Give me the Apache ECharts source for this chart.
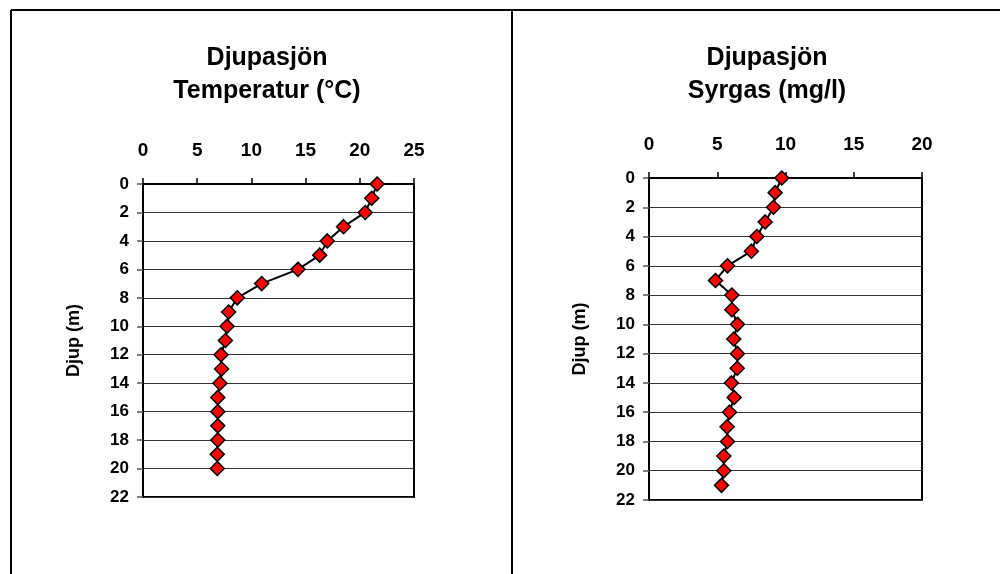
<!DOCTYPE html>
<html>
<head>
<meta charset="utf-8">
<script src="https://cdn.jsdelivr.net/npm/echarts@6/dist/echarts.min.js"></script>
<style>
html,body{margin:0;padding:0;background:#fff;}
#c{width:1000px;height:574px;}
</style>
</head>
<body>
<div id="c"></div>
<script>
const depthTemp = [0,1,2,3,4,5,6,7,8,9,10,11,12,13,14,15,16,17,18,19,20];
const temperature = [21.6,21.1,20.5,18.5,17.0,16.3,14.3,10.95,8.7,7.9,7.75,7.6,7.2,7.25,7.1,6.9,6.9,6.9,6.9,6.85,6.85];
const depthOxy = [0,1,2,3,4,5,6,7,8,9,10,11,12,13,14,15,16,17,18,19,20,21];
const oxygen = [9.73,9.24,9.12,8.51,7.9,7.5,5.75,4.87,6.07,6.07,6.48,6.21,6.48,6.46,6.04,6.24,5.9,5.72,5.75,5.48,5.48,5.31];
const titleLeft = "Djupasjön\nTemperatur (°C)";
const titleRight = "Djupasjön\nSyrgas (mg/l)";
const yName = "Djup (m)";

const FONT = "'Liberation Sans', Arial, sans-serif";
const chart = echarts.init(document.getElementById('c'), null, {renderer:'canvas'});

function xAx(gi, max, margin){
  return {
    gridIndex: gi, type:'value', position:'top', min:0, max:max, interval:5,
    axisLine:{show:true, onZero:false, lineStyle:{color:'#000', width:2}},
    axisTick:{show:true, inside:false, length:6, lineStyle:{color:'#000', width:1.5}},
    axisLabel:{color:'#000', fontFamily:FONT, fontWeight:'bold', fontSize:19, margin:margin},
    splitLine:{show:false}
  };
}
function yAx(gi, gap){
  return {
    gridIndex: gi, type:'value', inverse:true, min:0, max:22, interval:2,
    name: yName, nameLocation:'middle', nameGap:gap, nameRotate:90,
    nameTextStyle:{color:'#000', fontFamily:FONT, fontWeight:'bold', fontSize:18},
    axisLine:{show:true, onZero:false, lineStyle:{color:'#000', width:2}},
    axisTick:{show:true, inside:false, length:6, lineStyle:{color:'#555', width:1.5}},
    axisLabel:{color:'#000', fontFamily:FONT, fontWeight:'bold', fontSize:17, margin:14},
    splitLine:{show:true, lineStyle:{color:'#333', width:1}}
  };
}
function ser(gi, xs, ys){
  return {
    type:'line', xAxisIndex:gi, yAxisIndex:gi,
    data: xs.map((v,i)=>[v, ys[i]]),
    symbol:'diamond', symbolSize:14,
    lineStyle:{color:'#000', width:2},
    itemStyle:{color:'#ff0000', borderColor:'#000', borderWidth:1.5},
    animation:false, z:3
  };
}

chart.setOption({
  backgroundColor:'#fff',
  animation:false,
  title:[
    {text:titleLeft, left:262, textAlign:'center', top:37,
     textStyle:{fontFamily:FONT, fontWeight:'bold', fontSize:25, lineHeight:33, color:'#000'}},
    {text:titleRight, left:762, textAlign:'center', top:37,
     textStyle:{fontFamily:FONT, fontWeight:'bold', fontSize:25, lineHeight:33, color:'#000'}}
  ],
  grid:[
    {left:143, top:184, width:271, height:313, show:true, borderColor:'#000', borderWidth:2, backgroundColor:'transparent'},
    {left:649, top:178, width:273, height:322, show:true, borderColor:'#000', borderWidth:2, backgroundColor:'transparent'}
  ],
  xAxis:[xAx(0,25,24), xAx(1,20,24)],
  yAxis:[yAx(0,60), yAx(1,60)],
  series:[ser(0, temperature, depthTemp), ser(1, oxygen, depthOxy)],
  graphic:[
    {type:'line', shape:{x1:11, y1:10, x2:1000, y2:10}, style:{stroke:'#000', lineWidth:2}},
    {type:'line', shape:{x1:11, y1:10, x2:11, y2:574}, style:{stroke:'#000', lineWidth:2}},
    {type:'line', shape:{x1:512, y1:10, x2:512, y2:574}, style:{stroke:'#000', lineWidth:2}}
  ]
});
</script>
</body>
</html>
